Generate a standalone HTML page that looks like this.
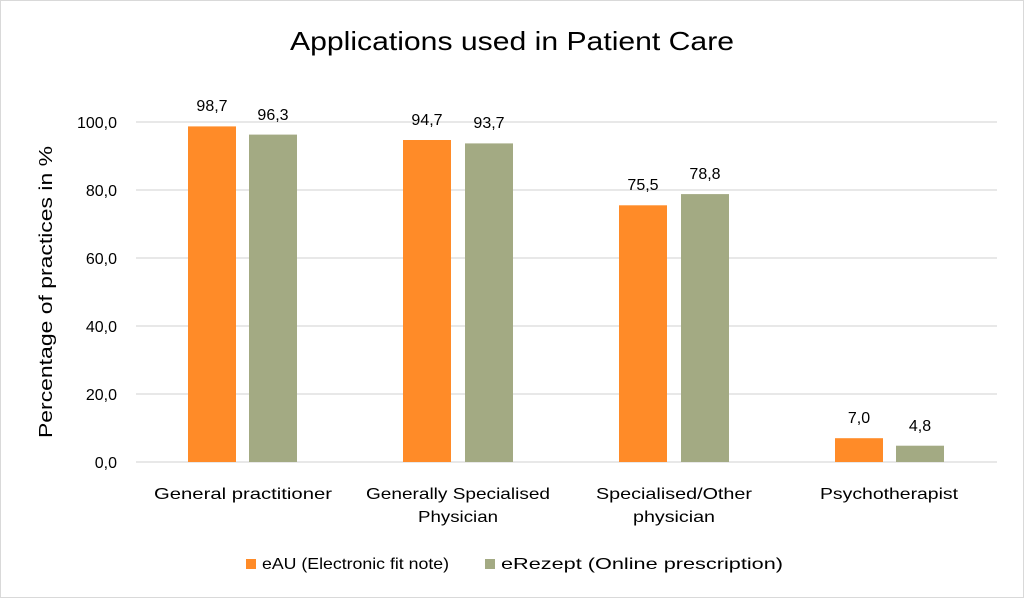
<!DOCTYPE html>
<html><head><meta charset="utf-8"><style>
html,body{margin:0;padding:0;background:#fff}
svg{display:block;font-family:"Liberation Sans",sans-serif}
</style></head><body>
<svg width="1024" height="598" viewBox="0 0 1024 598" xmlns="http://www.w3.org/2000/svg">
<rect x="0.5" y="0.5" width="1023" height="597" fill="#fff" stroke="#d9d9d9"/>
<text x="512" y="50" font-size="26" text-anchor="middle" fill="#000" textLength="444" lengthAdjust="spacingAndGlyphs">Applications used in Patient Care</text>
<g stroke="#d9d9d9" stroke-width="1.3">
<line x1="136" x2="997" y1="122" y2="122"/><line x1="136" x2="997" y1="190" y2="190"/>
<line x1="136" x2="997" y1="258" y2="258"/><line x1="136" x2="997" y1="326" y2="326"/>
<line x1="136" x2="997" y1="394" y2="394"/><line x1="136" x2="997" y1="462" y2="462"/>
</g>
<g font-size="16" text-anchor="end" fill="#000">
<text x="117" y="128">100,0</text><text x="117" y="196">80,0</text><text x="117" y="264">60,0</text>
<text x="117" y="332">40,0</text><text x="117" y="400">20,0</text><text x="117" y="468">0,0</text>
</g>
<text transform="translate(52,292) rotate(-90)" font-size="18" text-anchor="middle" textLength="292" lengthAdjust="spacingAndGlyphs">Percentage of practices in %</text>
<g fill="#ff8b28">
<rect x="188" y="126.4" width="48" height="335.6"/>
<rect x="403" y="140.0" width="48" height="322.0"/>
<rect x="619" y="205.3" width="48" height="256.7"/>
<rect x="835" y="438.2" width="48" height="23.8"/>
</g>
<g fill="#a3aa83">
<rect x="249" y="134.6" width="48" height="327.4"/>
<rect x="465" y="143.4" width="48" height="318.6"/>
<rect x="681" y="194.1" width="48" height="267.9"/>
<rect x="896" y="445.7" width="48" height="16.3"/>
</g>
<g font-size="16" text-anchor="middle" fill="#000">
<text x="212" y="111">98,7</text><text x="273" y="120">96,3</text>
<text x="427" y="125">94,7</text><text x="489" y="128">93,7</text>
<text x="643" y="190">75,5</text><text x="705" y="179">78,8</text>
<text x="859" y="423">7,0</text><text x="920" y="431">4,8</text>
</g>
<g font-size="16" text-anchor="middle" fill="#000">
<text x="243" y="499" textLength="178" lengthAdjust="spacingAndGlyphs">General practitioner</text>
<text x="458" y="499" textLength="184" lengthAdjust="spacingAndGlyphs">Generally Specialised</text>
<text x="458" y="522" textLength="80" lengthAdjust="spacingAndGlyphs">Physician</text>
<text x="674" y="499" textLength="156" lengthAdjust="spacingAndGlyphs">Specialised/Other</text>
<text x="674" y="522" textLength="82" lengthAdjust="spacingAndGlyphs">physician</text>
<text x="889" y="499" textLength="138" lengthAdjust="spacingAndGlyphs">Psychotherapist</text>
</g>
<rect x="246" y="559" width="10" height="10" fill="#ff8b28"/>
<text x="262" y="569" font-size="16" textLength="187" lengthAdjust="spacingAndGlyphs">eAU (Electronic fit note)</text>
<rect x="485" y="559" width="10" height="10" fill="#a3aa83"/>
<text x="501" y="569" font-size="16" textLength="282" lengthAdjust="spacingAndGlyphs">eRezept (Online prescription)</text>
</svg>
</body></html>
